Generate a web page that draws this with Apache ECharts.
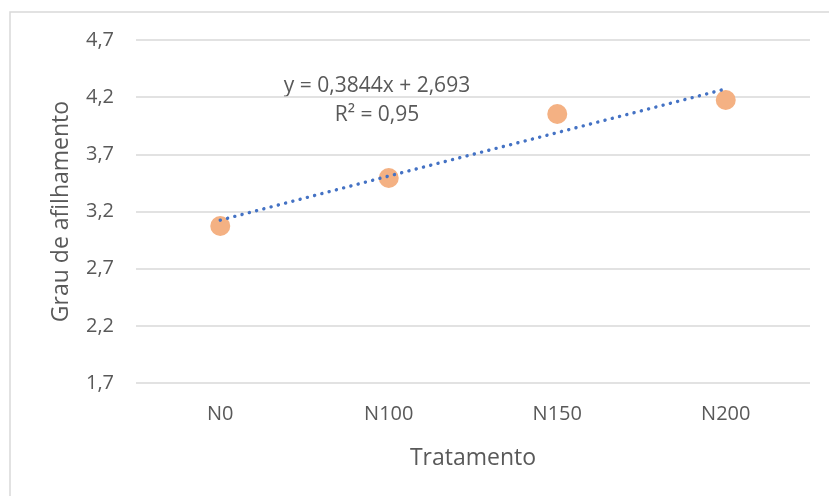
<!DOCTYPE html>
<html>
<head>
<meta charset="utf-8">
<script src="https://cdn.jsdelivr.net/npm/echarts@6/dist/echarts.min.js"></script>
<style>
  html, body { margin: 0; padding: 0; background: #fff; }
  #chart { width: 829px; height: 496px; }
</style>
</head>
<body>
<div id="chart"></div>
<script>
// dados
const tratamentos = ['N0', 'N100', 'N150', 'N200']
const grauAfilhamento = [3.073, 3.493, 4.053, 4.175]
// linha de tendência
const tendencia = [3.124, 3.51, 3.89, 4.272]
const yTicks = { min: 1.7, max: 4.7, interval: 0.5 }
const equacao = 'y = 0,3844x + 2,693'
const r2 = 'R² = 0,95'

const font = '"Open Sans", sans-serif'
const cinza = '#595959'

const chart = echarts.init(document.getElementById('chart'), null, { renderer: 'canvas' })

chart.setOption({
  animation: false,
  backgroundColor: '#fff',
  grid: { left: 136, right: 19, top: 40, bottom: 113 },
  xAxis: {
    type: 'category',
    data: tratamentos,
    boundaryGap: true,
    name: 'Tratamento',
    nameLocation: 'middle',
    nameGap: 64,
    nameTextStyle: { color: cinza, fontFamily: font, fontSize: 23 },
    axisLine: { show: false },
    axisTick: { show: false },
    axisLabel: { color: cinza, fontFamily: font, fontSize: 20, margin: 21 }
  },
  yAxis: {
    type: 'value',
    min: yTicks.min,
    max: yTicks.max,
    interval: yTicks.interval,
    name: 'Grau de afilhamento',
    nameLocation: 'middle',
    nameGap: 63,
    nameTextStyle: { color: cinza, fontFamily: font, fontSize: 23 },
    axisLine: { show: false },
    axisTick: { show: false },
    splitLine: { lineStyle: { color: '#d9d9d9', width: 1.5 } },
    axisLabel: {
      color: cinza, fontFamily: font, fontSize: 20, margin: 22,
      formatter: v => v.toFixed(1).replace('.', ',')
    }
  },
  graphic: [
    {
      type: 'rect', silent: true,
      shape: { x: 10, y: 12, width: 900, height: 600 },
      style: { fill: 'none', stroke: '#d9d9d9', lineWidth: 1.5 }
    },
    {
      type: 'text', silent: true,
      style: { text: equacao, x: 377, y: 86, fill: cinza, font: '21px ' + font,
        textAlign: 'center', textVerticalAlign: 'middle' }
    },
    {
      type: 'text', silent: true,
      style: { text: r2, x: 377, y: 115, fill: cinza, font: '21px ' + font,
        textAlign: 'center', textVerticalAlign: 'middle' }
    }
  ],
  series: [
    {
      type: 'scatter',
      data: grauAfilhamento,
      symbol: 'circle',
      symbolSize: 20,
      itemStyle: { color: '#f4b183', opacity: 1 },
      z: 2
    },
    {
      type: 'line',
      data: tendencia,
      symbol: 'none',
      lineStyle: { color: '#4472c4', width: 3.4, type: [0.1, 7.4], cap: 'round' },
      z: 3
    }
  ]
})
</script>
</body>
</html>
